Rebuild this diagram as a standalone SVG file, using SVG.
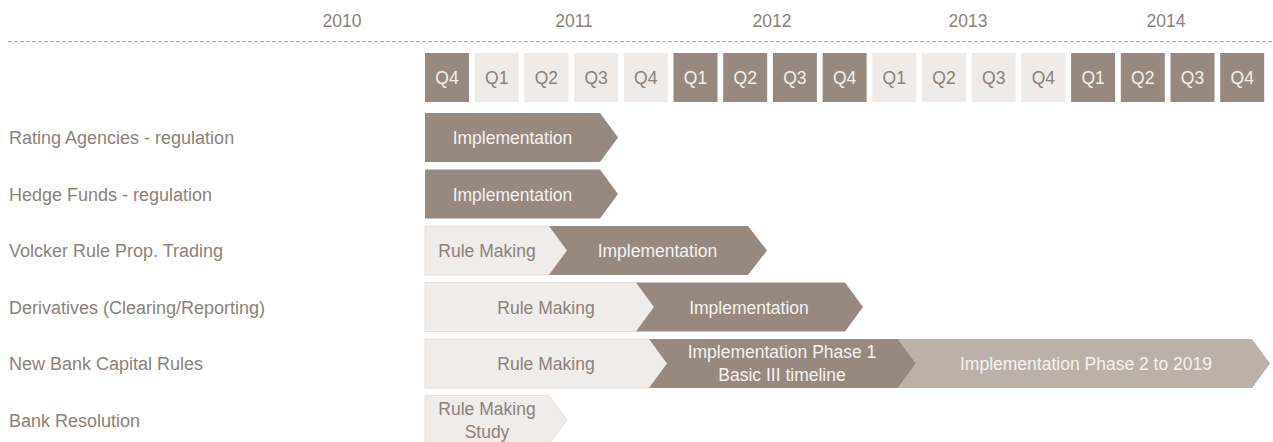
<svg xmlns="http://www.w3.org/2000/svg" width="1273" height="442" viewBox="0 0 1273 442">
<style>
text{font-family:"Liberation Sans",Arial,sans-serif;font-size:17.5px}
.lbl{fill:#8d817a;font-size:18px}
.yr{fill:#8d817a;text-anchor:middle}
.qd{fill:#978980}
.ql{fill:#efebe9}
.qtd{fill:#f3efec;text-anchor:middle}
.qtl{fill:#8d817a;text-anchor:middle}
.dk{fill:#978980}
.lt{fill:#efecea;stroke:#e4dfdb;stroke-width:1}
.p2{fill:#bbb1a9}
.td{fill:#f5f2f0;text-anchor:middle}
.tl{fill:#8d817a;text-anchor:middle}
</style>
<rect width="1273" height="442" fill="#ffffff"/>
<g id="timeline">
<line x1="8" y1="41.5" x2="1273" y2="41.5" stroke="#b8aea7" stroke-width="1" stroke-dasharray="4 2"/>
<text class="yr" x="342" y="27">2010</text>
<text class="yr" x="574" y="27">2011</text>
<text class="yr" x="772" y="27">2012</text>
<text class="yr" x="968" y="27">2013</text>
<text class="yr" x="1166" y="27">2014</text>
</g>
<g id="quarters">
<rect class="qd" x="425" y="53" width="44" height="49"/><text class="qtd" x="447" y="84">Q4</text>
<rect class="ql" x="474.7" y="53" width="44" height="49"/><text class="qtl" x="496.7" y="84">Q1</text>
<rect class="ql" x="524.4" y="53" width="44" height="49"/><text class="qtl" x="546.4" y="84">Q2</text>
<rect class="ql" x="574.1" y="53" width="44" height="49"/><text class="qtl" x="596.1" y="84">Q3</text>
<rect class="ql" x="623.8" y="53" width="44" height="49"/><text class="qtl" x="645.8" y="84">Q4</text>
<rect class="qd" x="673.5" y="53" width="44" height="49"/><text class="qtd" x="695.5" y="84">Q1</text>
<rect class="qd" x="723.2" y="53" width="44" height="49"/><text class="qtd" x="745.2" y="84">Q2</text>
<rect class="qd" x="772.9" y="53" width="44" height="49"/><text class="qtd" x="794.9" y="84">Q3</text>
<rect class="qd" x="822.6" y="53" width="44" height="49"/><text class="qtd" x="844.6" y="84">Q4</text>
<rect class="ql" x="872.3" y="53" width="44" height="49"/><text class="qtl" x="894.3" y="84">Q1</text>
<rect class="ql" x="922" y="53" width="44" height="49"/><text class="qtl" x="944" y="84">Q2</text>
<rect class="ql" x="971.7" y="53" width="44" height="49"/><text class="qtl" x="993.7" y="84">Q3</text>
<rect class="ql" x="1021.4" y="53" width="44" height="49"/><text class="qtl" x="1043.4" y="84">Q4</text>
<rect class="qd" x="1071.1" y="53" width="44" height="49"/><text class="qtd" x="1093.1" y="84">Q1</text>
<rect class="qd" x="1120.8" y="53" width="44" height="49"/><text class="qtd" x="1142.8" y="84">Q2</text>
<rect class="qd" x="1170.5" y="53" width="44" height="49"/><text class="qtd" x="1192.5" y="84">Q3</text>
<rect class="qd" x="1220.2" y="53" width="44" height="49"/><text class="qtd" x="1242.2" y="84">Q4</text>
</g>
<g id="row-rating">
<text class="lbl" x="9" y="144">Rating Agencies - regulation</text>
<polygon class="dk" points="425,113 600,113 618,137.5 600,162 425,162"/>
<text class="td" x="512.5" y="144">Implementation</text>
</g>
<g id="row-hedge">
<text class="lbl" x="9" y="200.5">Hedge Funds - regulation</text>
<polygon class="dk" points="425,169.5 600,169.5 618,194 600,218.5 425,218.5"/>
<text class="td" x="512.5" y="200.5">Implementation</text>
</g>
<g id="row-volcker">
<text class="lbl" x="9" y="257">Volcker Rule Prop. Trading</text>
<polygon class="lt" points="425,226 549,226 567,250.5 549,275 425,275"/>
<polygon class="dk" points="549,226 748,226 767,250.5 748,275 549,275 567,250.5"/>
<text class="tl" x="487" y="257">Rule Making</text>
<text class="td" x="657.5" y="257">Implementation</text>
</g>
<g id="row-derivatives">
<text class="lbl" x="9" y="313.5">Derivatives (Clearing/Reporting)</text>
<polygon class="lt" points="425,282.5 636,282.5 654,307 636,331.5 425,331.5"/>
<polygon class="dk" points="636,282.5 845,282.5 863,307 845,331.5 636,331.5 654,307"/>
<text class="tl" x="546" y="313.5">Rule Making</text>
<text class="td" x="749" y="313.5">Implementation</text>
</g>
<g id="row-capital">
<text class="lbl" x="9" y="370">New Bank Capital Rules</text>
<polygon class="lt" points="425,339 649,339 667,363.5 649,388 425,388"/>
<polygon class="p2" points="898,339 1252,339 1270,363.5 1252,388 898,388 916,363.5"/>
<polygon class="dk" points="649,339 898,339 916,363.5 898,388 649,388 667,363.5"/>
<text class="tl" x="546" y="370">Rule Making</text>
<text class="td" x="782" y="357.5">Implementation Phase 1</text>
<text class="td" x="782" y="381">Basic III timeline</text>
<text class="td" x="1086" y="370">Implementation Phase 2 to 2019</text>
</g>
<g id="row-resolution">
<text class="lbl" x="9" y="426.5">Bank Resolution</text>
<polygon class="lt" points="425,395.5 549,395.5 567,420 549,444.5 425,444.5"/>
<text class="tl" x="487" y="415">Rule Making</text>
<text class="tl" x="487" y="438">Study</text>
</g>
<g id="connectors"/>
</svg>
